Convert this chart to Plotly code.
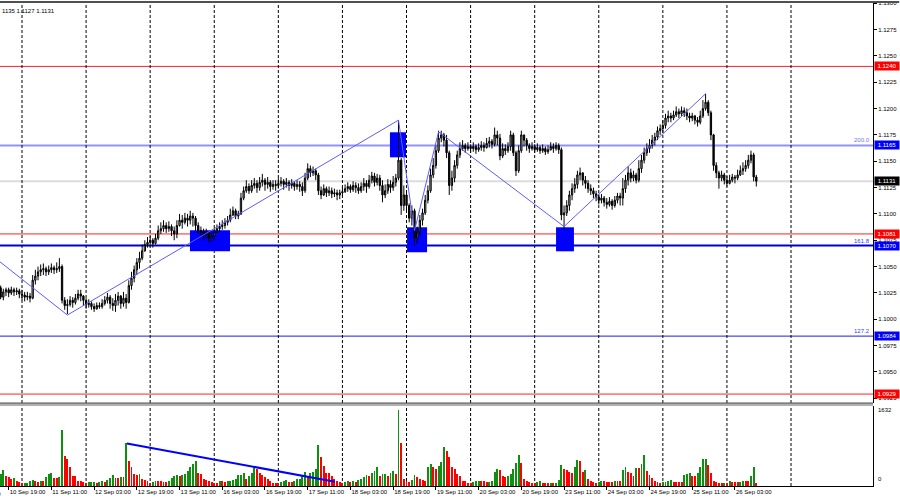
import pandas as pd
import plotly.graph_objects as go

# ---------------- data ----------------
trading_days = ["2019-09-10", "2019-09-11", "2019-09-12", "2019-09-13", "2019-09-16",
                "2019-09-17", "2019-09-18", "2019-09-19", "2019-09-20", "2019-09-23",
                "2019-09-24", "2019-09-25", "2019-09-26"]
first_bar = "2019-09-10 16:00"
last_bar = "2019-09-26 11:00"
next_day = "2019-09-27"

first_open = 1.1030
close = [
    1.1021, 1.1026, 1.1028, 1.1025, 1.1028, 1.1026, 1.1027, 1.1024,
    1.1023, 1.1021, 1.1022, 1.1020, 1.1037, 1.1041, 1.1045, 1.1047,
    1.1048, 1.1045, 1.1047, 1.1049, 1.1047, 1.1048, 1.1050, 1.1018,
    1.1013, 1.1014, 1.1018, 1.1016, 1.1020, 1.1024, 1.1022, 1.1018,
    1.1014, 1.1015, 1.1012, 1.1010, 1.1013, 1.1012, 1.1015, 1.1018,
    1.1021, 1.1015, 1.1013, 1.1018, 1.1022, 1.1015, 1.1020, 1.1016,
    1.1032, 1.1039, 1.1047, 1.1054, 1.1058, 1.1065, 1.1071, 1.1073,
    1.1075, 1.1072, 1.1077, 1.1084, 1.1086, 1.1089, 1.1086, 1.1088,
    1.1084, 1.1081, 1.1089, 1.1094, 1.1092, 1.1096, 1.1094, 1.1098,
    1.1096, 1.1089, 1.1084, 1.1083, 1.1080, 1.1082, 1.1077, 1.1079,
    1.1083, 1.1086, 1.1088, 1.1089, 1.1092, 1.1094, 1.1099, 1.1103,
    1.1098, 1.1100, 1.1115, 1.1122, 1.1126, 1.1122, 1.1127, 1.1129,
    1.1125, 1.1130, 1.1132, 1.1128, 1.1130, 1.1126, 1.1128, 1.1127,
    1.1129, 1.1131, 1.1128, 1.1130, 1.1127, 1.1129, 1.1126, 1.1128,
    1.1126, 1.1122, 1.1134, 1.1143, 1.1139, 1.1141, 1.1137, 1.1122,
    1.1118, 1.1124, 1.1120, 1.1122, 1.1119, 1.1120, 1.1118, 1.1120,
    1.1121, 1.1124, 1.1126, 1.1123, 1.1127, 1.1125, 1.1122, 1.1126,
    1.1129, 1.1126, 1.1132, 1.1136, 1.1130, 1.1134, 1.1127, 1.1118,
    1.1122, 1.1128, 1.1125, 1.1130, 1.1134, 1.1151, 1.1108, 1.1118,
    1.1108, 1.1096, 1.1103, 1.1077, 1.1083, 1.1094, 1.1101, 1.1113,
    1.1122, 1.1137, 1.1146, 1.1160, 1.1172, 1.1175, 1.1170, 1.1158,
    1.1127, 1.1134, 1.1146, 1.1156, 1.1162, 1.1165, 1.1162, 1.1164,
    1.1162, 1.1164, 1.1161, 1.1163, 1.1165, 1.1163, 1.1167, 1.1169,
    1.1166, 1.1175, 1.1172, 1.1155, 1.1162, 1.1160, 1.1164, 1.1175,
    1.1158, 1.1141, 1.1160, 1.1175, 1.1170, 1.1165, 1.1162, 1.1164,
    1.1161, 1.1163, 1.1160, 1.1162, 1.1159, 1.1161, 1.1164, 1.1162,
    1.1165, 1.1161, 1.1099, 1.1101, 1.1108, 1.1118, 1.1124, 1.1128,
    1.1137, 1.1139, 1.1132, 1.1129, 1.1124, 1.1122, 1.1119, 1.1116,
    1.1113, 1.1115, 1.1111, 1.1109, 1.1112, 1.1108, 1.1113, 1.1117,
    1.1115, 1.1124, 1.1132, 1.1139, 1.1134, 1.1137, 1.1132, 1.1143,
    1.1151, 1.1158, 1.1162, 1.1165, 1.1170, 1.1173, 1.1179, 1.1181,
    1.1184, 1.1191, 1.1193, 1.1191, 1.1194, 1.1197, 1.1195, 1.1198,
    1.1196, 1.1193, 1.1191, 1.1193, 1.1189, 1.1187, 1.1193, 1.1200,
    1.1206, 1.1196, 1.1175, 1.1146, 1.1139, 1.1134, 1.1137, 1.1132,
    1.1129, 1.1132, 1.1135, 1.1134, 1.1137, 1.1141, 1.1143, 1.1146,
    1.1151, 1.1156, 1.1135, 1.1131,
]
high = [
    1.1032, 1.1029, 1.1030, 1.1030, 1.1031, 1.1030, 1.1030, 1.1029,
    1.1028, 1.1026, 1.1026, 1.1025, 1.1042, 1.1047, 1.1050, 1.1052,
    1.1053, 1.1050, 1.1051, 1.1053, 1.1051, 1.1054, 1.1058, 1.1052,
    1.1021, 1.1019, 1.1022, 1.1021, 1.1024, 1.1028, 1.1028, 1.1023,
    1.1020, 1.1019, 1.1017, 1.1015, 1.1016, 1.1016, 1.1019, 1.1022,
    1.1025, 1.1023, 1.1020, 1.1024, 1.1026, 1.1023, 1.1026, 1.1024,
    1.1037, 1.1045, 1.1051, 1.1058, 1.1064, 1.1071, 1.1075, 1.1078,
    1.1079, 1.1077, 1.1081, 1.1089, 1.1092, 1.1094, 1.1092, 1.1093,
    1.1090, 1.1088, 1.1094, 1.1100, 1.1099, 1.1101, 1.1100, 1.1103,
    1.1101, 1.1098, 1.1092, 1.1088, 1.1086, 1.1086, 1.1083, 1.1083,
    1.1086, 1.1090, 1.1092, 1.1094, 1.1096, 1.1098, 1.1105, 1.1107,
    1.1105, 1.1103, 1.1120, 1.1126, 1.1132, 1.1129, 1.1132, 1.1134,
    1.1132, 1.1135, 1.1138, 1.1134, 1.1135, 1.1132, 1.1132, 1.1132,
    1.1134, 1.1135, 1.1133, 1.1134, 1.1132, 1.1133, 1.1131, 1.1132,
    1.1131, 1.1130, 1.1139, 1.1148, 1.1146, 1.1145, 1.1143, 1.1139,
    1.1126, 1.1128, 1.1126, 1.1126, 1.1125, 1.1124, 1.1123, 1.1123,
    1.1125, 1.1128, 1.1130, 1.1128, 1.1131, 1.1130, 1.1129, 1.1130,
    1.1134, 1.1132, 1.1137, 1.1140, 1.1139, 1.1138, 1.1137, 1.1132,
    1.1128, 1.1133, 1.1132, 1.1136, 1.1138, 1.1189, 1.1153, 1.1127,
    1.1120, 1.1110, 1.1108, 1.1105, 1.1088, 1.1099, 1.1105, 1.1118,
    1.1127, 1.1143, 1.1153, 1.1165, 1.1179, 1.1179, 1.1177, 1.1175,
    1.1160, 1.1141, 1.1151, 1.1160, 1.1168, 1.1170, 1.1167, 1.1168,
    1.1166, 1.1168, 1.1166, 1.1167, 1.1169, 1.1168, 1.1172, 1.1173,
    1.1171, 1.1182, 1.1179, 1.1176, 1.1167, 1.1166, 1.1168, 1.1179,
    1.1177, 1.1160, 1.1165, 1.1179, 1.1175, 1.1172, 1.1167, 1.1168,
    1.1166, 1.1167, 1.1165, 1.1166, 1.1164, 1.1165, 1.1168, 1.1167,
    1.1168, 1.1167, 1.1163, 1.1108, 1.1113, 1.1122, 1.1129, 1.1134,
    1.1141, 1.1144, 1.1139, 1.1136, 1.1132, 1.1128, 1.1125, 1.1122,
    1.1119, 1.1119, 1.1117, 1.1115, 1.1116, 1.1114, 1.1117, 1.1120,
    1.1120, 1.1134, 1.1137, 1.1145, 1.1143, 1.1141, 1.1139, 1.1151,
    1.1156, 1.1163, 1.1167, 1.1171, 1.1175, 1.1177, 1.1183, 1.1185,
    1.1189, 1.1195, 1.1198, 1.1196, 1.1198, 1.1202, 1.1200, 1.1202,
    1.1201, 1.1200, 1.1196, 1.1196, 1.1194, 1.1192, 1.1198, 1.1208,
    1.1214, 1.1208, 1.1198, 1.1176, 1.1149, 1.1141, 1.1141, 1.1139,
    1.1136, 1.1137, 1.1138, 1.1137, 1.1142, 1.1146, 1.1149, 1.1151,
    1.1156, 1.1160, 1.1158, 1.1137,
]
low = [
    1.1019, 1.1018, 1.1022, 1.1021, 1.1023, 1.1022, 1.1023, 1.1020,
    1.1018, 1.1017, 1.1018, 1.1016, 1.1019, 1.1033, 1.1037, 1.1041,
    1.1042, 1.1041, 1.1042, 1.1044, 1.1043, 1.1044, 1.1045, 1.1015,
    1.1009, 1.1005, 1.1012, 1.1011, 1.1014, 1.1018, 1.1017, 1.1013,
    1.1010, 1.1011, 1.1009, 1.1007, 1.1009, 1.1010, 1.1010, 1.1013,
    1.1015, 1.1010, 1.1008, 1.1007, 1.1013, 1.1010, 1.1012, 1.1010,
    1.1015, 1.1028, 1.1035, 1.1042, 1.1048, 1.1056, 1.1064, 1.1068,
    1.1069, 1.1068, 1.1071, 1.1075, 1.1081, 1.1083, 1.1082, 1.1083,
    1.1079, 1.1075, 1.1077, 1.1088, 1.1086, 1.1090, 1.1088, 1.1090,
    1.1088, 1.1084, 1.1081, 1.1078, 1.1075, 1.1076, 1.1073, 1.1073,
    1.1075, 1.1082, 1.1083, 1.1085, 1.1086, 1.1089, 1.1092, 1.1098,
    1.1095, 1.1095, 1.1099, 1.1113, 1.1120, 1.1119, 1.1120, 1.1124,
    1.1120, 1.1122, 1.1126, 1.1122, 1.1124, 1.1121, 1.1123, 1.1122,
    1.1124, 1.1126, 1.1123, 1.1125, 1.1122, 1.1124, 1.1122, 1.1123,
    1.1121, 1.1117, 1.1120, 1.1132, 1.1135, 1.1136, 1.1132, 1.1118,
    1.1114, 1.1117, 1.1116, 1.1117, 1.1115, 1.1116, 1.1113, 1.1114,
    1.1117, 1.1120, 1.1121, 1.1120, 1.1121, 1.1120, 1.1119, 1.1120,
    1.1122, 1.1120, 1.1124, 1.1129, 1.1126, 1.1127, 1.1122, 1.1111,
    1.1115, 1.1119, 1.1120, 1.1122, 1.1126, 1.1132, 1.1099, 1.1103,
    1.1101, 1.1092, 1.1089, 1.1070, 1.1072, 1.1079, 1.1089, 1.1099,
    1.1110, 1.1120, 1.1134, 1.1143, 1.1158, 1.1168, 1.1164, 1.1153,
    1.1118, 1.1122, 1.1130, 1.1143, 1.1153, 1.1160, 1.1158, 1.1160,
    1.1158, 1.1159, 1.1157, 1.1159, 1.1160, 1.1159, 1.1162, 1.1163,
    1.1162, 1.1164, 1.1165, 1.1151, 1.1153, 1.1156, 1.1158, 1.1160,
    1.1155, 1.1136, 1.1139, 1.1158, 1.1164, 1.1160, 1.1158, 1.1160,
    1.1158, 1.1159, 1.1157, 1.1158, 1.1156, 1.1157, 1.1160, 1.1158,
    1.1160, 1.1157, 1.1094, 1.1086, 1.1098, 1.1103, 1.1113, 1.1120,
    1.1124, 1.1132, 1.1127, 1.1124, 1.1120, 1.1118, 1.1115, 1.1112,
    1.1109, 1.1110, 1.1107, 1.1105, 1.1107, 1.1104, 1.1106, 1.1110,
    1.1108, 1.1108, 1.1120, 1.1127, 1.1130, 1.1131, 1.1129, 1.1130,
    1.1139, 1.1148, 1.1155, 1.1158, 1.1162, 1.1165, 1.1170, 1.1175,
    1.1177, 1.1181, 1.1187, 1.1187, 1.1189, 1.1192, 1.1191, 1.1193,
    1.1192, 1.1189, 1.1187, 1.1188, 1.1185, 1.1183, 1.1185, 1.1191,
    1.1198, 1.1193, 1.1170, 1.1141, 1.1134, 1.1124, 1.1131, 1.1128,
    1.1126, 1.1128, 1.1130, 1.1129, 1.1132, 1.1136, 1.1137, 1.1140,
    1.1143, 1.1148, 1.1131, 1.1126,
]
volume = [
    266, 338, 216, 194, 144, 165, 108, 86,
    58, 65, 72, 101, 129, 108, 93, 108,
    101, 187, 266, 280, 180, 180, 194, 1186,
    647, 575, 395, 216, 209, 108, 108, 93,
    72, 79, 86, 93, 72, 86, 108, 86,
    122, 180, 237, 180, 173, 194, 194, 913,
    525, 395, 266, 237, 266, 144, 122, 108,
    72, 86, 108, 108, 108, 86, 86, 108,
    165, 216, 237, 216, 237, 266, 324, 395,
    467, 525, 288, 266, 144, 122, 108, 86,
    72, 72, 101, 101, 86, 101, 108, 122,
    144, 237, 244, 288, 158, 216, 288, 395,
    360, 288, 237, 194, 158, 108, 72, 72,
    65, 86, 108, 122, 93, 86, 108, 144,
    158, 216, 309, 194, 288, 309, 360, 877,
    611, 431, 288, 280, 216, 144, 108, 86,
    72, 86, 101, 86, 108, 86, 122, 144,
    194, 237, 216, 288, 324, 410, 216, 252,
    266, 216, 288, 324, 252, 1632, 913, 144,
    108, 86, 122, 237, 194, 144, 122, 115,
    395, 467, 395, 360, 431, 503, 827, 755,
    611, 395, 360, 252, 216, 108, 101, 72,
    65, 86, 101, 108, 108, 101, 86, 93,
    108, 309, 360, 338, 216, 194, 209, 266,
    360, 482, 669, 482, 144, 108, 86, 72,
    72, 86, 108, 72, 72, 65, 72, 65,
    72, 129, 446, 360, 345, 309, 288, 395,
    554, 539, 309, 338, 144, 108, 86, 72,
    79, 108, 108, 86, 86, 79, 108, 108,
    108, 338, 410, 302, 288, 216, 381, 374,
    467, 669, 324, 237, 165, 108, 93, 72,
    79, 93, 108, 129, 93, 86, 86, 86,
    237, 266, 288, 216, 216, 288, 395, 575,
    582, 446, 288, 108, 93, 72, 65, 72,
    72, 108, 86, 86, 86, 93, 108, 108,
    108, 216, 410, 72,
]

tick_times = ["2019-09-10 19:00", "2019-09-11 11:00", "2019-09-12 03:00", "2019-09-12 19:00",
              "2019-09-13 11:00", "2019-09-16 03:00", "2019-09-16 19:00", "2019-09-17 11:00",
              "2019-09-18 03:00", "2019-09-18 19:00", "2019-09-19 11:00", "2019-09-20 03:00",
              "2019-09-20 19:00", "2019-09-23 11:00", "2019-09-24 03:00", "2019-09-24 19:00",
              "2019-09-25 11:00", "2019-09-26 03:00"]
cut_label = "10 Sep 03:00"
price_ticks_from, price_ticks_to, price_tick_step = 1.0925, 1.1300, 0.0025

# horizontal levels
red_levels = [1.1240, 1.1081, 1.0929]
fib_names = ["200.0", "161.8", "127.2", "100.0"]
fib_levels = [1.1165, 1.1070, 1.0984, 1.0916]
bid_price = 1.1131
header_text = "1135 1.1127 1.1131"

# zigzag (bar position, price)
zz_pos = [-3, 25, 149, 155, 164, 211, 264]
zz_price = [1.1060, 1.1004, 1.1189, 1.1084, 1.1178, 1.1088, 1.1214]

# blue zones (bar from, bar to, price top, price bottom)
box_from = [70.9, 145.8, 152.2, 208.0]
box_to = [85.9, 151.8, 159.7, 214.7]
box_top = [1.10845, 1.11775, 1.10873, 1.10873]
box_bot = [1.10645, 1.11537, 1.10636, 1.10645]

# volume trend line
vline_pos = [47.3, 125.2]
vline_val = [908, 90]
vol_max_label = 1632

# ---------------- build ----------------
stamps = [pd.Timestamp(d) + pd.Timedelta(hours=h) for d in trading_days for h in range(24)]
stamps = [t for t in stamps if pd.Timestamp(first_bar) <= t <= pd.Timestamp(last_bar)]
n = len(stamps)
pos = list(range(n))
opens = [first_open] + close[:-1]

tickvals = [stamps.index(pd.Timestamp(t)) for t in tick_times]
ticktext = [pd.Timestamp(t).strftime("%d %b %H:%M") for t in tick_times]

day_starts = [i for i, t in enumerate(stamps) if t.hour == 0]
day_starts.append(day_starts[-1] + int((pd.Timestamp(next_day) - stamps[day_starts[-1]]) / pd.Timedelta(hours=1)))

vol_colors = []
for i, v in enumerate(volume):
    vol_colors.append("#0f8f0f" if i == 0 or v > volume[i - 1] else "#ff0000")

FONT = "Liberation Sans"
fig = go.Figure()

fig.add_trace(go.Candlestick(
    x=pos, open=opens, high=high, low=low, close=close,
    increasing=dict(line=dict(color="#000000", width=1), fillcolor="#b8b8b8"),
    decreasing=dict(line=dict(color="#000000", width=1), fillcolor="#000000"),
    whiskerwidth=0, yaxis="y", hoverinfo="skip", name="EURUSD",
))
fig.add_trace(go.Scatter(x=zz_pos, y=zz_price, mode="lines",
                         line=dict(color="#5c5cff", width=1), yaxis="y", hoverinfo="skip"))
fig.add_trace(go.Bar(x=pos, y=volume, marker=dict(color=vol_colors, line=dict(width=0)),
                     width=0.72, yaxis="y2", hoverinfo="skip"))
fig.add_trace(go.Scatter(x=vline_pos, y=vline_val, mode="lines",
                         line=dict(color="#0000ff", width=2), yaxis="y2", hoverinfo="skip"))

shapes = []
# blue zones
for a, b, t, btm in zip(box_from, box_to, box_top, box_bot):
    shapes.append(dict(type="rect", xref="x", yref="y", x0=a, x1=b, y0=btm, y1=t,
                       fillcolor="#0000ff", line=dict(width=0), layer="below"))
# horizontal levels
for lv in red_levels:
    shapes.append(dict(type="line", xref="x domain", yref="y", x0=0, x1=1, y0=lv, y1=lv,
                       line=dict(color="#ff2020", width=1), layer="below"))
fib_styles = [("#9191ff", 2), ("#0000d0", 2), ("#1c1ce6", 1), ("#6060ff", 1)]
for lv, (col, w) in zip(fib_levels, fib_styles):
    shapes.append(dict(type="line", xref="x domain", yref="y", x0=0, x1=1, y0=lv, y1=lv,
                       line=dict(color=col, width=w), layer="below"))
shapes.append(dict(type="line", xref="x domain", yref="y", x0=0, x1=1, y0=bid_price, y1=bid_price,
                   line=dict(color="#dcdcdc", width=2), layer="below"))
# day separators
for d in day_starts:
    for yr in ("y domain", "y2 domain"):
        shapes.append(dict(type="line", xref="x", yref=yr, x0=d, x1=d, y0=0, y1=1,
                           line=dict(color="#000000", width=1, dash="3px,2px"), layer="below"))
# pane separator and top border
shapes.append(dict(type="rect", xref="paper", yref="paper", x0=0, x1=1,
                   y0=0.1656, y1=0.1718, fillcolor="#b0b0b0", line=dict(width=0)))
shapes.append(dict(type="line", xref="paper", yref="paper", x0=0, x1=1, y0=0.1718, y1=0.1718,
                   line=dict(color="#505050", width=1)))
shapes.append(dict(type="line", xref="paper", yref="paper", x0=0, x1=1.03, y0=1.002, y1=1.002,
                   line=dict(color="#505050", width=2)))

annotations = []
label_boxes = [(1.1240, "#ff0000"), (1.1165, "#0000ff"), (bid_price, "#000000"),
               (1.1081, "#ff0000"), (1.1070, "#0000ff"), (1.0984, "#0000ff"), (1.0929, "#ff0000")]
for p, col in label_boxes:
    annotations.append(dict(xref="paper", x=1, xanchor="left", xshift=1, yref="y", y=p,
                            text=f"{p:.4f}", showarrow=False, bgcolor=col, borderpad=0,
                            width=24, height=8, font=dict(family=FONT, size=6, color="#ffffff")))
fib_cols = ["#7070ff", "#3a3aff", "#3a3aff", "#3a3aff"]
for name, lv, col in zip(fib_names, fib_levels, fib_cols):
    annotations.append(dict(xref="paper", x=1, xanchor="right", xshift=-1, yref="y", y=lv,
                            yanchor="bottom", text=name, showarrow=False,
                            font=dict(family=FONT, size=6, color=col)))
annotations.append(dict(xref="paper", x=0, xanchor="left", yref="paper", y=1, yanchor="top",
                        yshift=-3, text=header_text, showarrow=False,
                        font=dict(family=FONT, size=6, color="#000000")))
annotations.append(dict(xref="paper", x=0, xanchor="right", xshift=3, yref="paper", y=0,
                        yanchor="top", yshift=-3, text=cut_label, showarrow=False,
                        font=dict(family=FONT, size=6, color="#000000")))
annotations.append(dict(xref="paper", x=1, xanchor="left", xshift=3, yref="y2", y=vol_max_label,
                        text=str(vol_max_label), showarrow=False,
                        font=dict(family=FONT, size=6, color="#000000")))
annotations.append(dict(xref="paper", x=1, xanchor="left", xshift=3, yref="y2 domain", y=0,
                        yanchor="bottom", yshift=2, text="0", showarrow=False,
                        font=dict(family=FONT, size=6, color="#000000")))

fig.update_layout(
    width=900, height=500, margin=dict(l=0, r=27, t=3, b=14, autoexpand=False),
    paper_bgcolor="#ffffff", plot_bgcolor="#ffffff", showlegend=False,
    shapes=shapes, annotations=annotations, bargap=0,
    font=dict(family=FONT, size=6, color="#000000"),
    xaxis=dict(range=[-0.24, 326.7], anchor="y2", showgrid=False, zeroline=False,
               tickvals=tickvals, ticktext=ticktext, ticklabelposition="outside right",
               tickangle=0, automargin=False,
               ticks="outside", ticklen=3, tickcolor="#000000", showline=True,
               linecolor="#000000", linewidth=1, rangeslider=dict(visible=False),
               tickfont=dict(family=FONT, size=6, color="#000000")),
    yaxis=dict(domain=[0.1718, 1], range=[1.09205, 1.13002], side="right", anchor="x",
               showgrid=False, zeroline=False, tick0=price_ticks_from, dtick=price_tick_step,
               tickformat=".4f", ticks="outside", ticklen=3, tickcolor="#000000",
               automargin=False, showline=True, linecolor="#000000", linewidth=1,
               tickfont=dict(family=FONT, size=6, color="#000000")),
    yaxis2=dict(domain=[0, 0.1656], range=[0, 1707], side="right", anchor="x",
                showgrid=False, zeroline=False, showticklabels=False, ticks="",
                automargin=False, showline=True, linecolor="#000000", linewidth=1),
)

fig.write_html("out.html", config={"displayModeBar": False, "staticPlot": True},
               post_script="document.body.style.margin='0';document.body.style.overflow='hidden';")
